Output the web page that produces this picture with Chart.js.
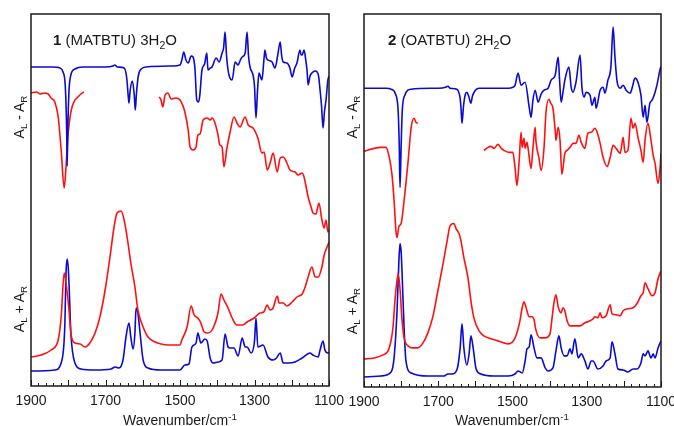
<!DOCTYPE html>
<html>
<head>
<meta charset="utf-8">
<script src="https://cdn.jsdelivr.net/npm/chart.js@4.4.1/dist/chart.umd.min.js"></script>
<style>
  html, body { margin: 0; padding: 0; background: #fff; }
  #page { position: relative; width: 674px; height: 426px; overflow: hidden; font-family: "Liberation Sans", Arial, sans-serif; color: #1a1a1a; }
  canvas { position: absolute; top: 0; }
  .lbl { position: absolute; white-space: nowrap; font-size: 14px; line-height: 14px; }
  .rot { transform: translate(-50%, -50%) rotate(-90deg); }
  .xt { transform: translateX(-50%); }
  .ttl { font-size: 15px; line-height: 15px; }
  sub { font-size: 0.7em; vertical-align: -0.35em; line-height: 0; }
  sup { font-size: 0.7em; vertical-align: 0.55em; line-height: 0; }
</style>
</head>
<body>
<div id="page">
  <canvas id="panel1" width="350" height="426" style="left:0"></canvas>
  <canvas id="panel2" width="334" height="426" style="left:340px"></canvas>

  <div class="lbl ttl" style="left:53px; top:32px"><b>1</b> (MATBTU) 3H<sub>2</sub>O</div>
  <div class="lbl ttl" style="left:388px; top:32px"><b>2</b> (OATBTU) 2H<sub>2</sub>O</div>

  <div class="lbl rot" style="left:19px; top:117px">A<sub>L</sub> - A<sub>R</sub></div>
  <div class="lbl rot" style="left:19px; top:309px">A<sub>L</sub> + A<sub>R</sub></div>
  <div class="lbl rot" style="left:352px; top:117px">A<sub>L</sub> - A<sub>R</sub></div>
  <div class="lbl rot" style="left:352px; top:311px">A<sub>L</sub> + A<sub>R</sub></div>

  <div class="lbl xt" style="left:180px; top:413px">Wavenumber/cm<sup>-1</sup></div>
  <div class="lbl xt" style="left:512px; top:413px">Wavenumber/cm<sup>-1</sup></div>
</div>

<script>
// ---- axis ----
const wnMin = 1100, wnMax = 1900;
const tickValues = [1100, 1300, 1500, 1700, 1900];

const BLUE = '#0a0ad2';
const RED = '#ff1010';

// ---- panel 1 : (MATBTU) 3H2O ----
const p1VcdBlueWn = [1900,1840,1822,1814,1808,1804,1803,1801,1798,1793,1782,1760,1700,1680,1675,1668,1650,1643,1639,1637,1634,1628,1623,1620,1617,1612,1604,1590,1520,1500,1495,1490,1484,1478,1470,1465,1460,1455,1450,1447,1441,1434,1428,1425,1419,1414,1403,1395,1387,1383,1379,1375,1371,1366,1360,1352,1344,1338,1333,1325,1320,1316,1312,1304,1300,1296,1292,1288,1280,1275,1272,1268,1264,1253,1245,1238,1231,1227,1223,1213,1205,1199,1192,1186,1178,1175,1172,1167,1162,1159,1156,1151,1146,1137,1132,1128,1124,1120,1116,1112,1108,1103,1100];
const p1VcdBlue = [319,319,318,314,300,250,220,260,295,311,317,319,319,320,321,319,318,308,290,283,295,305,292,276,292,310,317,319,320,321,326,334,326,323,330,329,318,286,284,290,316,322,333,316,318,319,328,324,333,338,354,330,316,308,306,324,321,326,329,333,354,330,319,311,300,268,295,313,306,325,336,328,326,324,318,330,344,330,324,323,318,309,318,323,336,331,331,336,325,316,301,310,313,315,314,310,296,280,258,275,286,306,310];

const p1VcdRedWn = [1900,1885,1875,1865,1854,1846,1836,1827,1819,1811,1806,1801,1793,1782,1774,1766,1758,1600,1556,1551,1546,1540,1532,1524,1511,1500,1487,1478,1473,1465,1457,1452,1446,1438,1427,1419,1414,1406,1398,1393,1387,1382,1374,1366,1355,1347,1339,1325,1317,1304,1291,1280,1274,1266,1258,1250,1239,1231,1223,1213,1205,1191,1183,1172,1167,1156,1148,1143,1135,1127,1119,1113,1108,1103,1100];
const p1VcdRed = [293,294,292,293,292,288,284,269,236,198,219,249,274,286,289,292,294,null,289,286,279,291,293,287,288,286,274,256,239,236,239,251,252,266,268,266,268,263,251,241,239,219,238,253,269,263,259,269,261,258,248,233,234,216,223,233,214,228,229,223,216,214,211,213,209,189,179,173,172,183,166,158,166,154,156];

const p1IrRedWn = [1900,1873,1846,1827,1819,1811,1806,1798,1793,1782,1768,1755,1742,1728,1715,1701,1688,1677,1669,1658,1650,1642,1632,1621,1613,1599,1586,1567,1551,1532,1500,1495,1481,1470,1462,1452,1444,1435,1425,1411,1398,1390,1382,1371,1360,1347,1333,1320,1301,1285,1275,1266,1258,1250,1239,1234,1223,1213,1199,1186,1172,1164,1156,1146,1137,1129,1119,1113,1103,1100];
const p1IrRed = [29,31,36,46,69,113,103,76,53,43,42,39,43,53,69,96,129,159,173,175,166,149,123,99,76,59,49,44,42,41,41,46,59,80,71,68,63,54,53,58,73,92,86,78,68,61,61,64,68,73,74,81,76,78,90,83,83,80,84,89,92,99,109,119,109,109,119,131,141,144];

const p1IrBlueWn = [1900,1836,1819,1812,1809,1806,1803,1800,1798,1793,1782,1766,1728,1685,1674,1664,1653,1645,1637,1632,1626,1621,1618,1613,1608,1599,1586,1551,1500,1487,1476,1468,1457,1452,1444,1433,1427,1419,1411,1398,1387,1379,1371,1366,1355,1344,1333,1325,1320,1309,1300,1296,1291,1277,1264,1250,1241,1231,1223,1210,1191,1172,1151,1143,1129,1124,1116,1111,1103,1100];
const p1IrBlue = [15,16,23,40,63,113,127,118,103,53,23,17,16,17,19,18,26,49,63,49,37,53,78,73,56,26,18,16,16,21,22,39,43,53,43,47,45,28,23,24,26,52,39,38,38,30,48,39,39,33,45,68,39,41,29,26,28,33,23,23,24,28,33,31,29,36,45,36,33,34];

// ---- panel 2 : (OATBTU) 2H2O ----
const p2VcdBlueWn = [1900,1840,1827,1815,1808,1805,1803,1800,1797,1790,1773,1700,1680,1674,1668,1650,1642,1639,1636,1632,1627,1623,1618,1612,1608,1600,1590,1512,1499,1493,1485,1477,1466,1455,1450,1445,1439,1431,1423,1415,1404,1396,1385,1377,1373,1369,1364,1359,1348,1342,1337,1329,1318,1313,1307,1302,1291,1286,1278,1275,1264,1256,1251,1243,1235,1229,1224,1218,1210,1202,1194,1183,1178,1170,1162,1154,1148,1143,1138,1130,1124,1116,1111,1103,1100];
const p2VcdBlue = [298,298,297,292,275,240,199,240,275,291,297,298,299,300,298,297,290,280,263,280,292,294,290,283,290,296,298,298,299,301,313,301,304,279,269,286,296,284,292,296,298,306,311,329,305,284,294,306,319,299,294,304,331,299,289,294,291,281,289,278,296,299,293,306,319,359,329,304,298,301,296,293,298,308,304,291,269,281,264,283,286,294,301,316,320];

const p2VcdRedWn = [1900,1873,1854,1841,1833,1825,1819,1814,1811,1806,1800,1792,1781,1773,1765,1760,1755,1650,1577,1566,1558,1550,1539,1530,1523,1509,1499,1493,1488,1482,1477,1474,1469,1466,1461,1458,1450,1445,1439,1437,1429,1423,1415,1410,1402,1397,1391,1385,1383,1377,1372,1367,1359,1353,1345,1337,1329,1321,1315,1305,1297,1288,1278,1272,1264,1256,1245,1237,1229,1221,1210,1202,1197,1189,1181,1175,1170,1162,1154,1148,1143,1135,1127,1121,1116,1108,1103,1100];
const p2VcdRed = [235,238,239,239,231,213,186,156,149,160,163,186,226,259,268,264,263,null,236,239,240,238,242,238,236,234,234,218,201,226,254,239,248,238,244,238,218,238,259,246,229,216,239,273,287,283,278,256,246,259,246,212,233,236,239,243,243,251,244,238,253,254,258,254,243,229,220,229,241,238,233,249,234,236,268,258,263,249,236,224,246,263,246,231,223,203,216,233];

const p2IrRedWn = [1900,1873,1849,1833,1822,1816,1808,1803,1798,1792,1781,1768,1755,1741,1728,1714,1701,1687,1676,1668,1658,1652,1644,1639,1631,1620,1612,1604,1590,1577,1558,1539,1523,1512,1493,1480,1474,1469,1464,1455,1447,1442,1437,1426,1412,1399,1394,1388,1383,1377,1369,1364,1359,1353,1345,1332,1318,1305,1291,1283,1278,1270,1264,1259,1248,1237,1232,1221,1210,1202,1189,1175,1165,1154,1148,1143,1135,1124,1116,1108,1100];
const p2IrRed = [28,29,32,38,59,89,113,98,69,49,41,39,39,44,54,71,96,123,146,161,163,158,153,146,129,109,86,69,56,51,48,46,44,43,49,66,79,85,80,70,70,67,57,49,49,53,67,85,92,80,74,79,76,66,61,61,61,64,66,68,70,69,74,69,71,82,73,72,71,76,78,79,83,91,94,104,98,91,94,108,116];

const p2IrBlueWn = [1900,1854,1827,1819,1811,1806,1803,1800,1798,1792,1787,1773,1728,1684,1674,1663,1649,1641,1636,1631,1623,1617,1612,1606,1598,1585,1550,1512,1493,1485,1474,1466,1461,1455,1450,1442,1434,1423,1412,1404,1391,1383,1375,1369,1361,1353,1345,1340,1332,1323,1315,1305,1297,1288,1283,1270,1256,1248,1237,1232,1224,1216,1202,1189,1175,1165,1154,1148,1143,1135,1127,1121,1116,1108,1100];
const p2IrBlue = [10,11,15,29,76,126,143,135,119,59,26,14,11,11,13,13,18,39,63,39,22,33,51,39,18,13,11,11,13,16,14,26,38,40,52,39,29,29,19,16,19,36,51,39,31,31,38,33,48,29,33,26,18,26,26,18,21,26,29,45,33,18,17,15,18,18,24,33,31,36,29,33,29,39,46];

// frame + inward ticks
const framePlugin = {
  id: 'frame',
  afterDatasetsDraw(chart) {
    const { ctx, chartArea: a, scales: { x } } = chart;
    ctx.save();
    ctx.strokeStyle = '#1a1a1a';
    ctx.lineWidth = 1;
    for (let v = wnMin; v <= wnMax; v += 20) {
      const px = Math.round(x.getPixelForValue(v)) + 0.5;
      const len = v % 100 === 0 ? 6 : 3;
      ctx.beginPath();
      ctx.moveTo(px, a.bottom);
      ctx.lineTo(px, a.bottom - len);
      ctx.stroke();
    }
    ctx.lineWidth = 1.5;
    ctx.strokeRect(a.left, a.top, a.right - a.left, a.bottom - a.top);
    ctx.restore();
  }
};

function series(wn, vals, color) {
  return {
    data: wn.map((w, i) => ({ x: w, y: vals[i] })),
    borderColor: color,
    borderWidth: 1.6,
    pointRadius: 0,
    cubicInterpolationMode: 'monotone',
    spanGaps: false,
    fill: false
  };
}

function makePanel(id, datasets, padLeft, padRight, axisH) {
  return new Chart(document.getElementById(id), {
    type: 'line',
    data: { datasets },
    options: {
      responsive: false,
      animation: false,
      devicePixelRatio: 1,
      layout: { padding: { left: padLeft, right: padRight, top: 14, bottom: 0 } },
      plugins: { legend: { display: false }, tooltip: { enabled: false } },
      scales: {
        x: {
          type: 'linear',
          reverse: true,
          min: wnMin,
          max: wnMax,
          afterFit: s => { s.height = axisH; },
          afterBuildTicks: s => { s.ticks = tickValues.map(v => ({ value: v })); },
          grid: { display: false },
          border: { display: false },
          ticks: {
            padding: -1,
            maxRotation: 0,
            autoSkip: false,
            color: '#1a1a1a',
            font: { family: '"Liberation Sans", Arial, sans-serif', size: 14 },
            callback: v => String(v)
          }
        },
        y: { display: false, min: 0, max: 372 }
      }
    },
    plugins: [framePlugin]
  });
}

makePanel('panel1', [
  series(p1VcdBlueWn, p1VcdBlue, BLUE),
  series(p1VcdRedWn, p1VcdRed, RED),
  series(p1IrRedWn, p1IrRed, RED),
  series(p1IrBlueWn, p1IrBlue, BLUE)
], 31, 21, 40);

makePanel('panel2', [
  series(p2VcdBlueWn, p2VcdBlue, BLUE),
  series(p2VcdRedWn, p2VcdRed, RED),
  series(p2IrRedWn, p2IrRed, RED),
  series(p2IrBlueWn, p2IrBlue, BLUE)
], 24, 13, 39);
</script>
</body>
</html>
